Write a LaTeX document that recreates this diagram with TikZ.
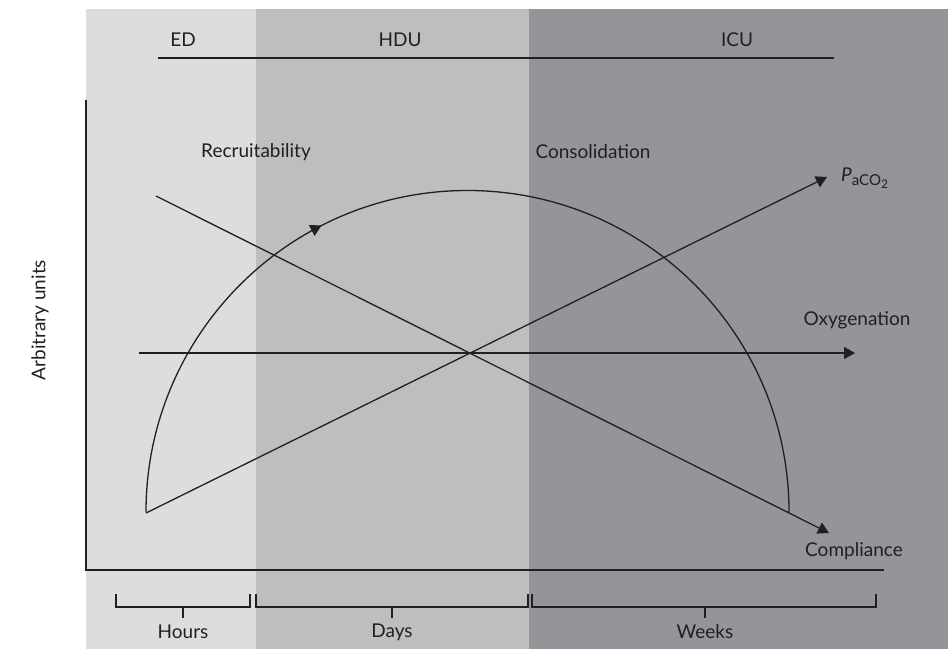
\documentclass[tikz,border=0pt]{standalone}
\usepackage{fontspec}
\setmainfont{Lato}
\usetikzlibrary{arrows.meta,decorations.markings}
\definecolor{edc}{HTML}{DCDDDF}
\definecolor{hduc}{HTML}{BDBEC0}
\definecolor{icuc}{HTML}{939598}
\definecolor{ink}{HTML}{231F20}
\tikzset{
  lbl/.style={text=ink,font=\fontsize{19}{23}\selectfont,inner sep=0pt},
  ln/.style={draw=ink,line width=1.3pt},
  arr/.style={ln,-{Triangle[width=12pt,length=11pt]}},
  brk/.style={draw=ink,line width=1.2pt}
}
\begin{document}
\begin{tikzpicture}[x=1pt,y=1pt]
\useasboundingbox (0,0) rectangle (949,649);
% background bands
\fill[edc] (86,0) rectangle (256,640);
\fill[hduc] (256,0) rectangle (529,640);
\fill[icuc] (529,0) rectangle (948,640);
% top line and labels
\coordinate (tl) at (158,591);
\coordinate (tr) at (834,591);
\draw[ln,line width=1.6pt] (tl) -- (tr);
\node[lbl] (ed) at (183,609) {ED};
\node[lbl] (hdu) at (400,609) {HDU};
\node[lbl] (icu) at (737,609) {ICU};
% axes
\coordinate (ytop) at (86,549);
\coordinate (orig) at (86,79);
\coordinate (xend) at (884,79);
\draw[ln] (ytop) -- (orig) -- (xend);
\node[lbl,rotate=90] (yl) at (40,329) {Arbitrary units};
% semicircle
\coordinate (arcL) at (146,137);
\draw[ln,postaction={decorate},decoration={markings,mark=at position 0.35 with {\arrow{Triangle[width=12pt,length=11pt]}}}]
  (arcL) arc[start angle=180,end angle=0,radius=321.5];
% lines
\coordinate (cs) at (156,453);
\coordinate (ce) at (829,116);
\draw[arr] (cs) -- (ce);
\coordinate (ps) at (146,136);
\coordinate (pe) at (827,472);
\draw[arr] (ps) -- (pe);
\coordinate (os) at (139,296);
\coordinate (oe) at (855,296);
\draw[arr] (os) -- (oe);
% labels
\node[lbl] (rec) at (256,497) {Recruitability};
\node[lbl] (con) at (593,497) {Consolidation};
\node[lbl,anchor=west] (pa) at (841,471) {\itshape P\upshape\raisebox{-0.45ex}{\fontsize{15}{17}\selectfont aCO\raisebox{-0.4ex}{\fontsize{12}{14}\selectfont 2}}};
\node[lbl] (oxy) at (857,329) {Oxygenation};
\node[lbl] (comp) at (854,98) {Compliance};
% bottom brackets
\draw[brk] (116,55) -- (116,42) -- (250,42) -- (250,55);
\draw[brk] (183,42) -- (183,31);
\draw[brk] (256,55) -- (256,42) -- (528,42) -- (528,55);
\draw[brk] (392,42) -- (392,31);
\draw[brk] (532,55) -- (532,42) -- (876,42) -- (876,55);
\draw[brk] (705,42) -- (705,31);
\node[lbl] (hrs) at (183,17) {Hours};
\node[lbl] (days) at (392,17) {Days};
\node[lbl] (wks) at (705,17) {Weeks};
\end{tikzpicture}
\end{document}
